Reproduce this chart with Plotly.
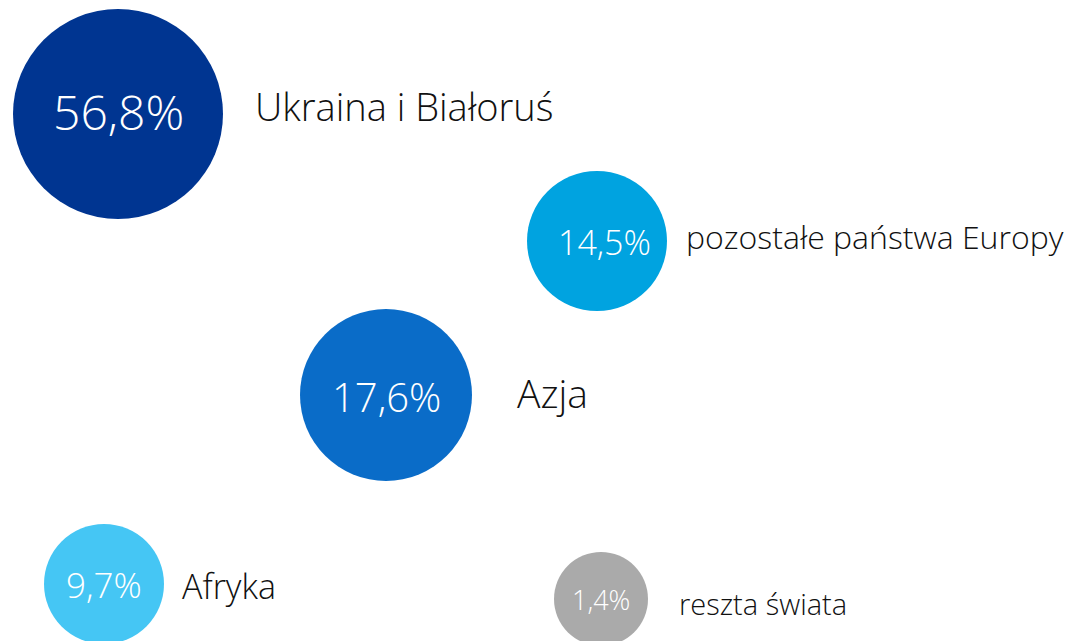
import plotly.graph_objects as go

# udział w imporcie wg kierunku
regions = ["Ukraina i Białoruś", "pozostałe państwa Europy", "Azja", "Afryka", "reszta świata"]
shares = [56.8, 14.5, 17.6, 9.7, 1.4]

# layout of the bubbles (pixel space, y grows downward)
pos_x = [118, 597, 386, 104, 601]
pos_y = [113, 240, 394, 583, 598]
diam = [210, 140, 172, 120, 94]
val_x = [118, 604, 386, 104, 601]
val_y = [110, 241, 395, 583, 598]
label_x = [253, 684, 515, 180, 677]
label_y = [105, 235, 391, 585, 602]
colors = ["#003591", "#00a3e0", "#0a6cc8", "#45c6f4", "#aaaaaa"]
val_size = [48, 34, 40, 35, 27]
lab_size = [38, 32, 39, 34, 29]

FONT = "Open Sans"

fig = go.Figure()
fig.add_trace(go.Scatter(
    x=pos_x, y=pos_y, mode="markers",
    marker=dict(size=diam, sizemode="diameter", color=colors, opacity=1,
                line=dict(width=0)),
    hoverinfo="skip", cliponaxis=False,
))

for i, name in enumerate(regions):
    pct = f"{shares[i]:.1f}".replace(".", ",") + "%"
    fig.add_annotation(x=val_x[i], y=val_y[i], text=pct, showarrow=False,
                       xanchor="center", yanchor="middle",
                       font=dict(family=FONT, size=val_size[i], color="white", weight=300))
    fig.add_annotation(x=label_x[i], y=label_y[i], text=name, showarrow=False,
                       xanchor="left", yanchor="middle",
                       font=dict(family=FONT, size=lab_size[i], color="#111111", weight=300))

# page body has an 8px margin, so shift the ranges to line up with the picture
fig.update_layout(
    width=1081, height=641,
    margin=dict(l=0, r=0, t=0, b=0),
    paper_bgcolor="white", plot_bgcolor="white",
    showlegend=False,
    xaxis=dict(range=[8, 1089], visible=False, fixedrange=True),
    yaxis=dict(range=[648, 7], visible=False, fixedrange=True),
)

fig.write_html("out.html", config={"displayModeBar": False})
